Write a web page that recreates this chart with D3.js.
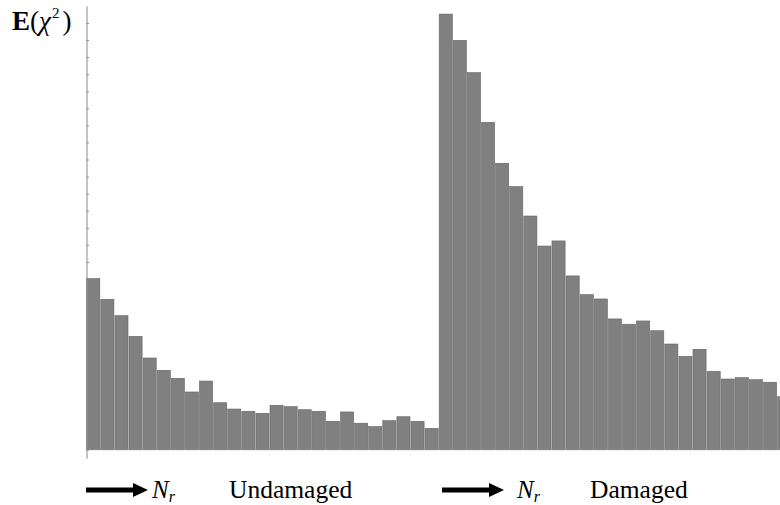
<!DOCTYPE html>
<html>
<head>
<meta charset="utf-8">
<script src="https://cdn.jsdelivr.net/npm/d3@7"></script>
<style>
  html, body { margin: 0; padding: 0; background: #fff; }
  svg { display: block; font-family: "Liberation Serif", "DejaVu Serif", serif; }
</style>
</head>
<body>
<svg id="chart" width="780" height="505"></svg>
<script>
// Expected chi-square statistic per reference count N_r, for each structural state
const groups = ["Undamaged", "Damaged"];
const undamaged = [10.02, 8.81, 7.85, 6.64, 5.37, 4.65, 4.18, 3.38, 4.02, 2.75,
                   2.38, 2.25, 2.13, 2.60, 2.52, 2.34, 2.25, 1.66, 2.21, 1.55,
                   1.35, 1.70, 1.93, 1.66, 1.25];
const damaged = [25.52, 23.98, 22.09, 19.18, 16.78, 15.41, 13.69, 11.93, 12.23, 10.18,
                 9.08, 8.83, 7.66, 7.35, 7.54, 6.97, 6.19, 5.47, 5.88, 4.59,
                 4.14, 4.22, 4.10, 3.95, 3.10];
const yTicks = d3.range(0, 26);

const bars = [];
undamaged.forEach((v, i) => bars.push({ group: groups[0], n: i + 1, value: v }));
damaged.forEach((v, i) => bars.push({ group: groups[1], n: i + 1, value: v }));

const svg = d3.select("#chart");

const x = d3.scaleBand()
  .domain(bars.map((d, i) => i))
  .range([86.7, 790.7])
  .paddingInner(0.07)
  .paddingOuter(0);

const y = d3.scaleLinear()
  .domain([-0.5, 26])
  .range([458.2, 5.9]);

// bars
svg.append("g")
  .selectAll("rect")
  .data(bars)
  .join("rect")
  .attr("x", (d, i) => x(i))
  .attr("width", x.bandwidth())
  .attr("y", d => y(d.value))
  .attr("height", d => y(0) - y(d.value))
  .attr("fill", "#808080")
  .attr("stroke", "#646464")
  .attr("stroke-width", 0.6);

// baseline
svg.append("line")
  .attr("x1", 86).attr("x2", 780)
  .attr("y1", y(0)).attr("y2", y(0))
  .attr("stroke", "#8a8a8a")
  .attr("stroke-width", 1);

// vertical axis with inward minor ticks, no labels
const yAxis = d3.axisRight(y)
  .tickValues(yTicks)
  .tickSize(2.5)
  .tickSizeOuter(0)
  .tickFormat("");
const yg = svg.append("g")
  .attr("transform", "translate(86.5,0)")
  .call(yAxis);
yg.select(".domain").attr("stroke", "#8a8a8a");
yg.selectAll(".tick line").attr("stroke", "#8a8a8a");

// axis title  E(χ²)
const title = svg.append("text")
  .attr("x", 12)
  .attr("y", 30)
  .attr("font-size", 27)
  .attr("fill", "#000");
title.append("tspan").attr("font-weight", "bold").text("E");
title.append("tspan").text("(");
title.append("tspan").attr("font-style", "italic").text("χ");
title.append("tspan").attr("font-size", 15).attr("dy", -12).attr("dx", 1).text("2");
title.append("tspan").attr("dy", 12).attr("dx", 3).text(")");

// group captions under the axis
const captions = [
  { label: groups[0], arrowX: 86, nX: 152, textX: 229 },
  { label: groups[1], arrowX: 442, nX: 517, textX: 590 }
];
const cap = svg.append("g")
  .selectAll("g")
  .data(captions)
  .join("g");

cap.append("path")
  .attr("d", d => {
    const a = d.arrowX, yc = 490;
    return `M${a},${yc - 2.5} L${a + 47},${yc - 2.5} L${a + 47},${yc - 7} L${a + 62},${yc} ` +
           `L${a + 47},${yc + 7} L${a + 47},${yc + 2.5} L${a},${yc + 2.5} Z`;
  })
  .attr("fill", "#000");

const nr = cap.append("text")
  .attr("x", d => d.nX)
  .attr("y", 498)
  .attr("font-size", 25)
  .attr("fill", "#000");
nr.append("tspan").attr("font-style", "italic").text("N");
nr.append("tspan").attr("font-style", "italic").attr("font-size", 16).attr("dy", 4).text("r");

cap.append("text")
  .attr("x", d => d.textX)
  .attr("y", 498)
  .attr("font-size", 25.5)
  .attr("fill", "#000")
  .text(d => d.label);
</script>
</body>
</html>
